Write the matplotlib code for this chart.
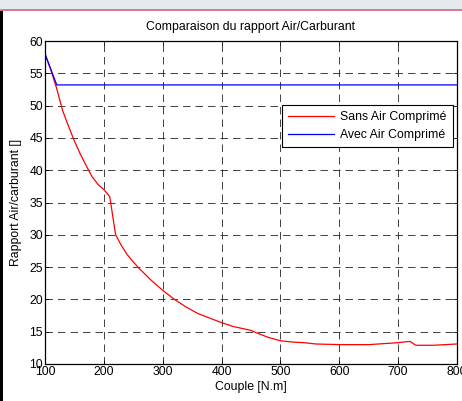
import matplotlib
matplotlib.use("Agg")
from matplotlib import pyplot as plt
from matplotlib.patches import Rectangle

plt.rcParams['font.family'] = ['Liberation Sans', 'DejaVu Sans']

# Sans air comprime
couple_sans = [100, 110, 120, 130, 140, 150, 160, 170, 180, 190, 200, 210,
               220, 230, 240, 250, 260, 280, 300, 320, 340, 360, 380, 400,
               420, 440, 450, 460, 480, 500, 520, 540, 560, 600, 650, 700,
               720, 730, 760, 800]
rapport_sans = [58.0, 55.5, 52.6, 49.2, 46.8, 44.5, 42.5, 40.7, 39.0, 37.8,
                37.0, 35.9, 30.0, 28.3, 26.9, 25.8, 24.8, 23.0, 21.4, 20.0,
                18.8, 17.8, 17.1, 16.4, 15.8, 15.4, 15.2, 14.8, 14.1, 13.6,
                13.4, 13.3, 13.1, 13.0, 13.0, 13.3, 13.5, 12.9, 12.9, 13.1]

# Avec air comprime
couple_avec = [100, 120, 800]
rapport_avec = [58.0, 53.2, 53.2]

xticks = [100, 200, 300, 400, 500, 600, 700, 800]
yticks = [10, 15, 20, 25, 30, 35, 40, 45, 50, 55, 60]

W, H = 462, 401
fig = plt.figure(figsize=(W / 100, H / 100), dpi=100)
fig.patch.set_facecolor('white')

# screenshot frame bits
fig.patches.append(Rectangle((0, 1 - 9 / H), 1, 9 / H, transform=fig.transFigure,
                             facecolor='#e6eaee', edgecolor='none'))
fig.patches.append(Rectangle((0, 1 - 11 / H), 1, 2 / H, transform=fig.transFigure,
                             facecolor='#d67a8c', edgecolor='none'))
fig.patches.append(Rectangle((0, 0), 3 / W, 1 - 11 / H, transform=fig.transFigure,
                             facecolor='black', edgecolor='none'))

ax = fig.add_axes([45 / W, (H - 364) / H, 412 / W, 323 / H])
ax.plot(couple_sans, rapport_sans, color='red', linewidth=0.9, label='Sans Air Comprimé')
ax.plot(couple_avec, rapport_avec, color='blue', linewidth=0.9, label='Avec Air Comprimé')

fs = 8.8
ax.set_xlim(100, 800)
ax.set_ylim(10, 60)
ax.set_xticks(xticks)
ax.set_yticks(yticks)
ax.tick_params(direction='in', top=True, right=True, labelsize=fs, length=3, width=0.6, pad=1.5)
ax.grid(True, color='#222222', linestyle=(0, (9, 6)), linewidth=0.6)
for s in ax.spines.values():
    s.set_linewidth(0.9)

ax.set_title('Comparaison du rapport Air/Carburant', fontsize=fs, pad=8)
ax.set_xlabel('Couple [N.m]', fontsize=fs, labelpad=2)
ax.set_ylabel('Rapport Air/carburant []', fontsize=fs, labelpad=5)

leg = ax.legend(loc='upper right', bbox_to_anchor=(0.99, 0.802), fontsize=fs,
                fancybox=False, framealpha=1, edgecolor='black', borderpad=0.5,
                handlelength=3.8, handletextpad=0.5, labelspacing=0.5, borderaxespad=0)
leg.get_frame().set_linewidth(0.8)

fig.savefig('out.png', dpi=100)
